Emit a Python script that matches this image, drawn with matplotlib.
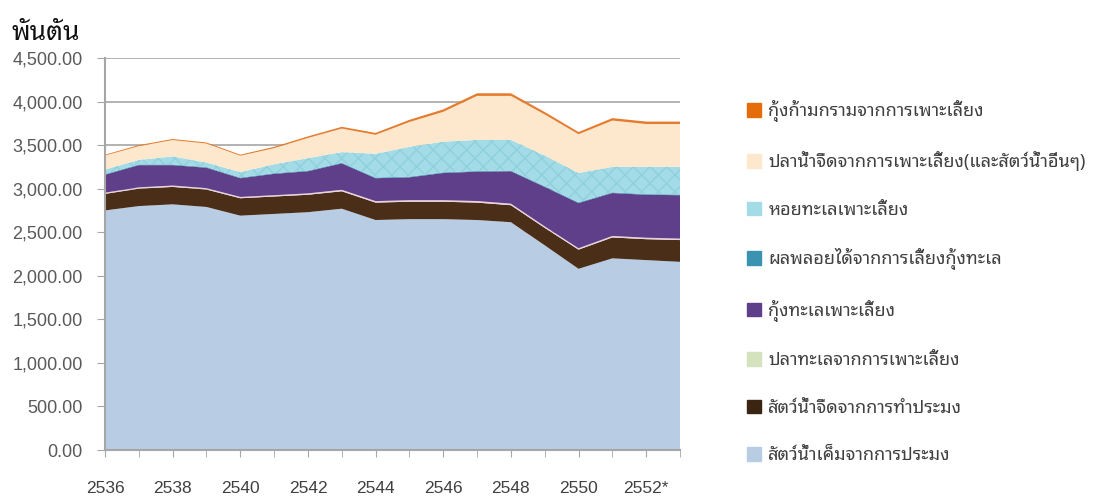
import matplotlib
matplotlib.use('Agg')
import matplotlib.pyplot as plt
from matplotlib import font_manager as fm
from matplotlib.ft2font import FT2Font
from matplotlib.patches import Patch
from matplotlib.ticker import MultipleLocator, FuncFormatter

# Data (thousand tonnes)
years = list(range(2536, 2554))
tick_years = [2536, 2538, 2540, 2542, 2544, 2546, 2548, 2550, 2552]
tick_labels = ['2536', '2538', '2540', '2542', '2544', '2546', '2548', '2550', '2552*']

marine_capture = [2750, 2800, 2820, 2790, 2690, 2710, 2730, 2770, 2640,
                  2650, 2650, 2640, 2615, 2350, 2080, 2200, 2180, 2160]
fresh_capture = [190, 200, 200, 200, 200, 200, 200, 200, 200,
                 200, 200, 200, 195, 200, 220, 240, 240, 250]
marine_fish_farm = [14, 15, 16, 16, 15, 15, 16, 17, 17,
                    18, 18, 18, 18, 17, 16, 17, 17, 17]
shrimp_farm = [206, 255, 234, 234, 215, 245, 254, 303, 263,
               262, 312, 337, 372, 453, 519, 493, 493, 498]
shrimp_byproduct = [8, 8, 8, 8, 8, 8, 8, 8, 8,
                    8, 8, 8, 8, 8, 8, 8, 8, 8]
shellfish_farm = [52, 52, 92, 52, 62, 102, 142, 122, 272,
                  342, 352, 357, 352, 352, 337, 292, 312, 317]
freshfish_farm = [160, 158, 188, 218, 188, 185, 232, 270, 218,
                  285, 342, 505, 505, 472, 445, 532, 492, 492]
prawn_farm = [10, 12, 12, 12, 12, 15, 18, 20, 22,
              25, 28, 30, 30, 28, 25, 28, 28, 28]

series = [marine_capture, fresh_capture, marine_fish_farm, shrimp_farm,
          shrimp_byproduct, shellfish_farm, freshfish_farm, prawn_farm]
labels = ['สัตว์น้ำเค็มจากการประมง', 'สัตว์น้ำจืดจากการทำประมง',
          'ปลาทะเลจากการเพาะเลี้ยง', 'กุ้งทะเลเพาะเลี้ยง',
          'ผลพลอยได้จากการเลี้ยงกุ้งทะเล', 'หอยทะเลเพาะเลี้ยง',
          'ปลาน้ำจืดจากการเพาะเลี้ยง(และสัตว์น้ำอื่นๆ)', 'กุ้งก้ามกรามจากการเพาะเลี้ยง']
colors = ['#b8cce4', '#4a2e18', '#e9d3dc', '#5f3f8a',
          '#3a93b0', '#a3dce6', '#fde8cd', '#e47b2d']
legend_colors = ['#b8cce4', '#3b2412', '#d4e2bd', '#5f3f8a',
                 '#3a93b0', '#a3dce6', '#fde8cd', '#e46c0a']


def find_thai_font():
    # first installed family that has Thai glyphs, looped styles preferred
    found = set()
    for f in fm.fontManager.ttflist:
        try:
            if 0x0E01 in FT2Font(f.fname).get_charmap():
                found.add(f.name)
        except Exception:
            pass
    for name in ['Noto Sans Thai Looped', 'IBM Plex Sans Thai Looped', 'Loma',
                 'Sarabun', 'Noto Sans Thai']:
        if name in found:
            return name
    return sorted(found)[0] if found else None


thai = find_thai_font()
plt.rcParams['font.family'] = ([thai] if thai else []) + ['Liberation Sans', 'DejaVu Sans']

fig = plt.figure(figsize=(11.02, 4.98), dpi=100)
ax = fig.add_axes([105 / 1102, 1 - 450 / 498, 575 / 1102, 392 / 498])

polys = ax.stackplot(years, *series, colors=colors, linewidth=0)
polys[5].set_hatch('xx')
polys[5].set_edgecolor('#8fd0dc')

ax.set_xlim(2536, 2553)
ax.set_ylim(0, 4500)
ax.yaxis.set_major_locator(MultipleLocator(500))
ax.yaxis.set_major_formatter(FuncFormatter(lambda v, p: f'{v:,.2f}'))
ax.set_xticks(tick_years)
ax.set_xticklabels(tick_labels)
ax.set_xticks(years, minor=True)

ax.grid(axis='y', color='#a6a6a6', lw=1.2)
ax.set_axisbelow(True)
for s in ('top', 'right'):
    ax.spines[s].set_visible(False)
for s in ('left', 'bottom'):
    ax.spines[s].set_color('#a6a6a6')
    ax.spines[s].set_linewidth(1.5)
ax.tick_params(axis='y', length=6, color='#a6a6a6', labelsize=13,
               labelcolor='#595959', pad=10)
ax.tick_params(axis='x', which='both', length=5, color='#a6a6a6', labelsize=12.5,
               labelcolor='#404040', pad=17)
for t in ax.get_xticklabels() + ax.get_yticklabels():
    t.set_family(['Liberation Sans', 'DejaVu Sans'])

fig.text(12 / 1102, 1 - 33 / 498, 'พันตัน', fontsize=19, fontweight='light',
         va='center', ha='left', color='#111111')

handles = [Patch(color=c, label=l) for c, l in zip(legend_colors, labels)][::-1]
fig.legend(handles=handles, loc='upper left', bbox_to_anchor=(747 / 1102, 1 - 100 / 498),
           frameon=False, fontsize=13, handlelength=0.78, handleheight=0.78,
           handletextpad=0.4, labelspacing=1.63, borderpad=0, borderaxespad=0,
           labelcolor='#404040')

plt.savefig('out.png', dpi=100)
